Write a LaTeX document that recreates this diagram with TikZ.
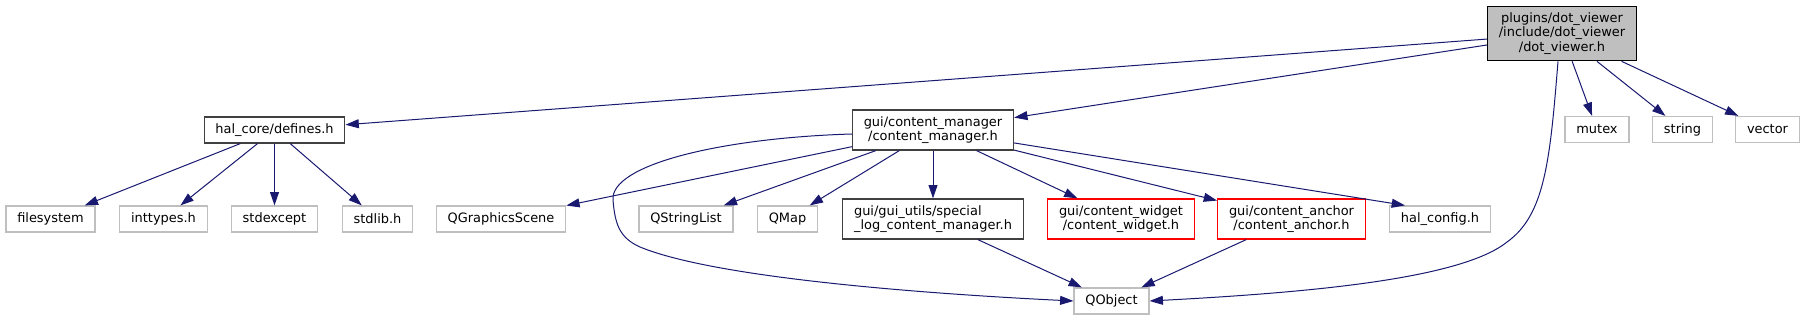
\documentclass[tikz,border=0pt]{standalone}
\usepackage{fontspec}
\setmainfont{DejaVu Sans}
\usetikzlibrary{arrows.meta}
\definecolor{edgeblue}{HTML}{191970}
\definecolor{boxgray}{HTML}{BFBFBF}
\definecolor{boxdark}{HTML}{404040}

\begin{document}
\begin{tikzpicture}[x=0.75pt,y=-0.75pt,
        font=\fontsize{9.7}{10.8}\selectfont,
        file/.style={draw,line width=0.9pt,align=center,inner xsep=8.5pt,inner ysep=4.8pt,minimum height=19.5pt},
        sysfile/.style={file,draw=boxgray},
        docfile/.style={file,draw=boxdark},
        missfile/.style={file,draw=red},
        rootfile/.style={file,draw=black,fill=boxgray},
        dep/.style={edgeblue,line width=0.75pt,-{Triangle[length=10pt,width=6.7pt]}}]
        \useasboundingbox (0,0) rectangle (1805,320);

        % The header itself
        \node[rootfile] (root) at (1562,33.5) {plugins/dot\_viewer\\/include/dot\_viewer\\/dot\_viewer.h};

        % Second row
        \node[docfile] (defines) at (274.5,130) {hal\_core/defines.h};
        \node[docfile] (cm) at (933,130) {gui/content\_manager\\/content\_manager.h};
        \node[sysfile] (mutex) at (1597,129.5) {mutex};
        \node[sysfile] (string) at (1682.5,129.5) {string};
        \node[sysfile] (vector) at (1767.5,129.5) {vector};

        % Third row
        \node[sysfile] (filesystem) at (50.5,219) {filesystem};
        \node[sysfile] (inttypes) at (163.5,219) {inttypes.h};
        \node[sysfile] (stdexcept) at (274.5,219) {stdexcept};
        \node[sysfile] (stdlib) at (377.5,219) {stdlib.h};
        \node[sysfile] (qscene) at (501,219) {QGraphicsScene};
        \node[sysfile] (qstrlist) at (686,219) {QStringList};
        \node[sysfile] (qmap) at (787.5,219) {QMap};
        \node[docfile,align=left] (speclog) at (933,219) {gui/gui\_utils/special\\\_log\_content\_manager.h};
        \node[missfile] (widget) at (1121,219) {gui/content\_widget\\/content\_widget.h};
        \node[missfile] (anchor) at (1291.5,219) {gui/content\_anchor\\/content\_anchor.h};
        \node[sysfile] (halcfg) at (1440,219) {hal\_config.h};

        % Bottom
        \node[sysfile] (qobject) at (1111.5,301) {QObject};

        % Edges from the header
        \draw[dep] (root) -- (defines);
        \draw[dep] (root) -- (cm);
        \draw[dep] (root) -- (mutex);
        \draw[dep] (root) -- (string);
        \draw[dep] (root) -- (vector);
        \draw[dep] ([xshift=-3pt]root.south) .. controls (1550,160) and (1545,215) .. (1507,242)
            .. controls (1460,280) and (1300,293) .. (qobject.east);

        % Edges from defines.h
        \draw[dep] (defines) -- (filesystem);
        \draw[dep] (defines) -- (inttypes);
        \draw[dep] (defines) -- (stdexcept);
        \draw[dep] (defines) -- (stdlib);

        % Edges from content_manager.h
        \draw[dep] (cm) -- (qscene);
        \draw[dep] (cm) -- (qstrlist);
        \draw[dep] (cm) -- (qmap);
        \draw[dep] (cm) -- (speclog);
        \draw[dep] (cm) -- (widget);
        \draw[dep] (cm) -- (anchor);
        \draw[dep] (cm) -- ([xshift=12pt]halcfg.north west);
        \draw[dep] ([yshift=-3pt]cm.west) .. controls (720,138) and (610,165) .. (613,200)
            .. controls (615,225) and (620,238) .. (640,247)
            .. controls (720,280) and (950,295) .. (qobject.west);

        % Into QObject
        \draw[dep] (speclog) -- (qobject);
        \draw[dep] (anchor) -- (qobject);
    \end{tikzpicture}
\end{document}
